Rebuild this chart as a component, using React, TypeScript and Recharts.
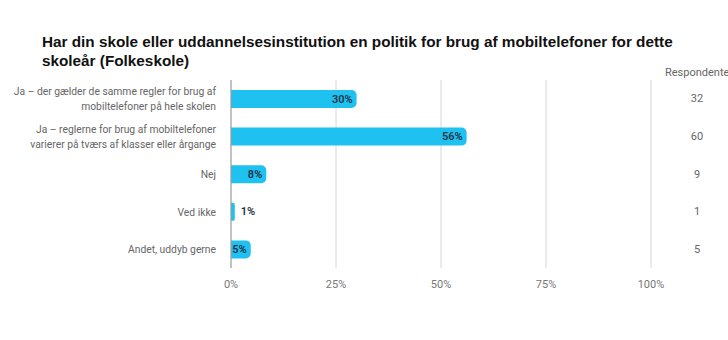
import { Bar, BarChart, CartesianGrid, LabelList, XAxis, YAxis } from "recharts";

// Survey answers, horizontal bars with share of respondents + count column on the right.

const answers = [
  ["Ja – der gælder de samme regler for brug af", "mobiltelefoner på hele skolen"],
  ["Ja – reglerne for brug af mobiltelefoner", "varierer på tværs af klasser eller årgange"],
  ["Nej"],
  ["Ved ikke"],
  ["Andet, uddyb gerne"],
];
const shares = [29.9, 56.1, 8.4, 0.9, 4.7];
const shareLabels = ["30%", "56%", "8%", "1%", "5%"];
const respondents = [32, 60, 9, 1, 5];
const xTicks = [0, 25, 50, 75, 100];

const BAR = "#1fc1f0";
const FONT = "Roboto, 'Noto Sans', sans-serif";

const data = answers.map((lines, i) => ({
  key: String(i),
  share: shares[i],
  label: shareLabels[i],
}));

function AnswerTick(props: any) {
  const { x, y, payload } = props;
  const lines = answers[Number(payload.value)];
  const lh = 15;
  const top = y - ((lines.length - 1) * lh) / 2;
  return (
    <text x={x} y={top} textAnchor="end" fill="#666" fontSize={10.3} fontFamily={FONT} dominantBaseline="central">
      {lines.map((l, i) => (
        <tspan key={i} x={x} y={top + i * lh}>
          {l}
        </tspan>
      ))}
    </text>
  );
}

function CountTick(props: any) {
  const { y, payload } = props;
  return (
    <text x={697} y={y} textAnchor="middle" fill="#666" fontSize={11} fontFamily={FONT} dominantBaseline="central">
      {respondents[Number(payload.value)]}
    </text>
  );
}

function ShareLabel(props: any) {
  const { x, y, width, height, value } = props;
  const outside = width < 14;
  return (
    <text
      x={outside ? x + width + 6 : x + width - 4}
      y={y + height / 2}
      textAnchor={outside ? "start" : "end"}
      dominantBaseline="central"
      fill="#1d3446"
      fontSize={11}
      fontWeight={600}
      fontFamily={FONT}
    >
      {value}
    </text>
  );
}

export default function App() {
  return (
    <div style={{ position: "absolute", left: 0, top: 0, width: 728, height: 340, background: "#fff" }}>
      <div
        style={{
          position: "absolute",
          left: 42,
          top: 32,
          width: 660,
          fontFamily: "'Liberation Sans', Arial, sans-serif",
          fontWeight: 700,
          fontSize: 15.3,
          lineHeight: "19px",
          color: "#111",
        }}
      >
        Har din skole eller uddannelsesinstitution en politik for brug af mobiltelefoner for dette skoleår (Folkeskole)
      </div>
      <div
        style={{
          position: "absolute",
          left: 665,
          top: 66,
          fontFamily: FONT,
          fontSize: 11,
          color: "#666",
          whiteSpace: "nowrap",
        }}
      >
        Respondenter
      </div>
      <BarChart
        width={728}
        height={340}
        data={data}
        layout="vertical"
        barCategoryGap={10}
        margin={{ top: 80, right: 0, bottom: 42, left: 0 }}
      >
        <CartesianGrid horizontal={false} stroke="#d6d6d6" />
        <XAxis
          type="number"
          domain={[0, 100]}
          ticks={xTicks}
          height={30}
          tickFormatter={(v) => `${v}%`}
          axisLine={false}
          tickLine={false}
          tickMargin={6}
          tick={{ fill: "#777", fontSize: 11, fontFamily: FONT }}
        />
        <YAxis
          type="category"
          dataKey="key"
          width={231}
          axisLine={{ stroke: "#999" }}
          tickLine={false}
          tick={<AnswerTick />}
          tickMargin={9}
        />
        <YAxis
          yAxisId="r"
          orientation="right"
          type="category"
          dataKey="key"
          width={77}
          axisLine={false}
          tickLine={false}
          tick={<CountTick />}
        />
        <Bar dataKey="share" fill={BAR} radius={[0, 5, 5, 0]} isAnimationActive={false}>
          <LabelList dataKey="label" content={<ShareLabel />} />
        </Bar>
      </BarChart>
    </div>
  );
}
